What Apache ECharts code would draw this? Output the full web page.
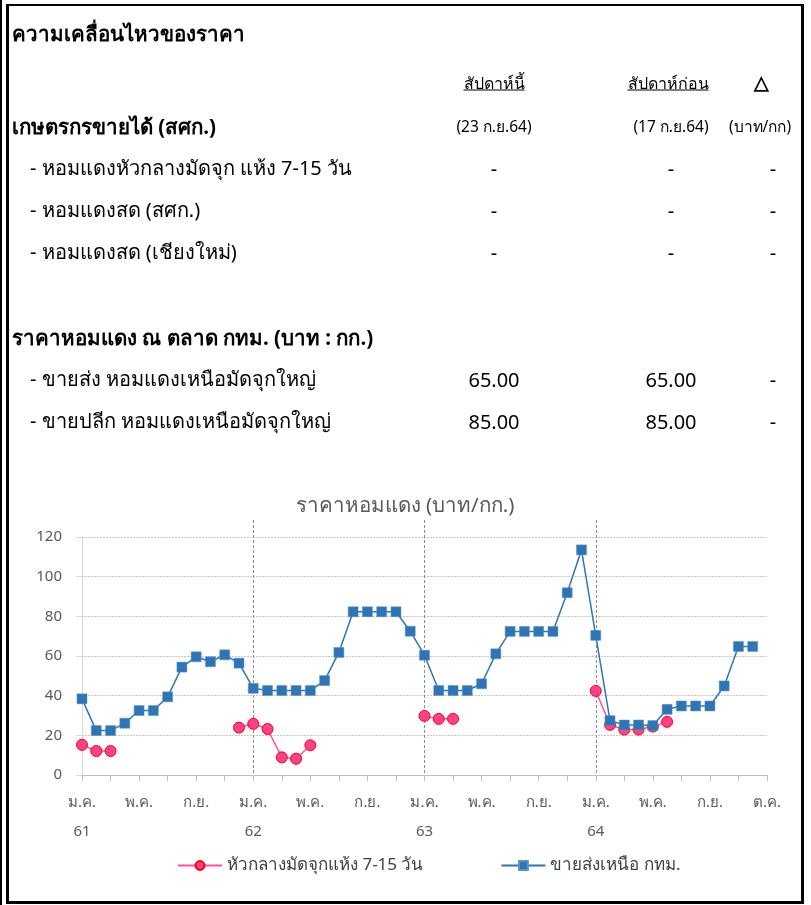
<!DOCTYPE html>
<html>
<head>
<meta charset="utf-8">
<script src="https://cdn.jsdelivr.net/npm/echarts@6/dist/echarts.min.js"></script>
<style>
  html, body { margin: 0; padding: 0; background: #fff; }
  body { width: 811px; height: 905px; position: relative; overflow: hidden;
         font-family: "Noto Sans", sans-serif; color: #000; }
  #frame { position: absolute; left: 6px; top: 4px; width: 798px; height: 900px;
           border: 3px solid #000; border-top-width: 2px; box-sizing: border-box; z-index: 2; pointer-events: none; }
  #edge { position: absolute; left: 0; top: 0; width: 2px; height: 905px; background: #000; }
  #chart { position: absolute; left: 0; top: 0; width: 811px; height: 905px; }
  .t { position: absolute; white-space: nowrap; transform: translateY(-50%); z-index: 3; }
  .c { transform: translate(-50%, -50%); }
  .b { font-weight: bold; font-size: 20.5px; }
  .r { font-size: 20px; }
  .s { font-size: 15.5px; }
  .u { text-decoration: underline; font-size: 16px; }
</style>
</head>
<body>
<div id="edge"></div>
<div id="chart"></div>
<div id="frame"></div>

<div class="t b" style="left:12px;top:33px">ความเคลื่อนไหวของราคา</div>
<div class="t c u" style="left:494px;top:83px">สัปดาห์นี้</div>
<div class="t c u" style="left:668px;top:83px">สัปดาห์ก่อน</div>
<div class="t c" style="left:761px;top:82px;font-size:19px;font-weight:bold">△</div>

<div class="t b" style="left:12px;top:126px">เกษตรกรขายได้ (สศก.)</div>
<div class="t c s" style="left:494px;top:126px">(23 ก.ย.64)</div>
<div class="t c s" style="left:671px;top:126px">(17 ก.ย.64)</div>
<div class="t c s" style="left:760px;top:126px">(บาท/กก)</div>

<div class="t r" style="left:30px;top:168px">- หอมแดงหัวกลางมัดจุก แห้ง 7-15 วัน</div>
<div class="t c r" style="left:494px;top:168px">-</div>
<div class="t c r" style="left:671px;top:168px">-</div>
<div class="t c r" style="left:773px;top:168px">-</div>

<div class="t r" style="left:30px;top:210px">- หอมแดงสด (สศก.)</div>
<div class="t c r" style="left:494px;top:210px">-</div>
<div class="t c r" style="left:671px;top:210px">-</div>
<div class="t c r" style="left:773px;top:210px">-</div>

<div class="t r" style="left:30px;top:252px">- หอมแดงสด (เชียงใหม่)</div>
<div class="t c r" style="left:494px;top:252px">-</div>
<div class="t c r" style="left:671px;top:252px">-</div>
<div class="t c r" style="left:773px;top:252px">-</div>

<div class="t b" style="left:12px;top:337px">ราคาหอมแดง ณ ตลาด กทม. (บาท : กก.)</div>

<div class="t r" style="left:30px;top:379px">- ขายส่ง หอมแดงเหนือมัดจุกใหญ่</div>
<div class="t c r" style="left:494px;top:379px">65.00</div>
<div class="t c r" style="left:671px;top:379px">65.00</div>
<div class="t c r" style="left:773px;top:379px">-</div>

<div class="t r" style="left:30px;top:421px">- ขายปลีก หอมแดงเหนือมัดจุกใหญ่</div>
<div class="t c r" style="left:494px;top:421px">85.00</div>
<div class="t c r" style="left:671px;top:421px">85.00</div>
<div class="t c r" style="left:773px;top:421px">-</div>

<script>
// หมวดเดือน (ปี พ.ศ. 61-64) + ช่องท้ายแกน
var categories = [
  'ม.ค. 61','ก.พ. 61','มี.ค. 61','เม.ย. 61','พ.ค. 61','มิ.ย. 61','ก.ค. 61','ส.ค. 61','ก.ย. 61','ต.ค. 61','พ.ย. 61','ธ.ค. 61',
  'ม.ค. 62','ก.พ. 62','มี.ค. 62','เม.ย. 62','พ.ค. 62','มิ.ย. 62','ก.ค. 62','ส.ค. 62','ก.ย. 62','ต.ค. 62','พ.ย. 62','ธ.ค. 62',
  'ม.ค. 63','ก.พ. 63','มี.ค. 63','เม.ย. 63','พ.ค. 63','มิ.ย. 63','ก.ค. 63','ส.ค. 63','ก.ย. 63','ต.ค. 63','พ.ย. 63','ธ.ค. 63',
  'ม.ค. 64','ก.พ. 64','มี.ค. 64','เม.ย. 64','พ.ค. 64','มิ.ย. 64','ก.ค. 64','ส.ค. 64','ก.ย. 64','ก.ย.(2) 64','ก.ย.(3) 64','ก.ย.(4) 64',
  'ต.ค.'
];

// หัวกลางมัดจุกแห้ง 7-15 วัน
var dryPrice = [
  15.2, 12.1, 12.1, null, null, null, null, null, null, null, null, 23.9,
  25.8, 23.2, 8.9, 8.2, 15, null, null, null, null, null, null, null,
  29.8, 28.3, 28.3, null, null, null, null, null, null, null, null, null,
  42.4, 25.3, 22.9, 22.9, 24.4, 26.8, null, null, null, null, null, null,
  null
];

// ขายส่งเหนือ กทม.
var wholesale = [
  38.4, 22.4, 22.4, 26.1, 32.5, 32.5, 39.4, 54.4, 59.6, 57.1, 60.6, 56.4,
  43.7, 42.6, 42.6, 42.6, 42.6, 47.6, 61.8, 82.3, 82.3, 82.3, 82.3, 72.5,
  60.4, 42.6, 42.6, 42.6, 46, 61.1, 72.4, 72.4, 72.4, 72.4, 91.9, 113.5,
  70.4, 27.4, 25.2, 25.2, 24.9, 33.1, 34.8, 34.8, 34.8, 44.9, 64.8, 64.8,
  null
];

var chart = echarts.init(document.getElementById('chart'), null, {renderer: 'canvas'});
var font = '"Noto Sans", sans-serif';

chart.setOption({
  animation: false,
  textStyle: {fontFamily: font},
  title: {
    text: 'ราคาหอมแดง (บาท/กก.)',
    left: 400,
    top: 491,
    textAlign: 'center',
    textStyle: {fontSize: 20.5, fontWeight: 'normal', color: '#595959', fontFamily: font}
  },
  legend: {
    left: 172,
    top: 852,
    itemWidth: 44,
    itemHeight: 11,
    itemGap: 77,
    textStyle: {fontSize: 17, color: '#404040', fontFamily: font},
    data: ['หัวกลางมัดจุกแห้ง 7-15 วัน', 'ขายส่งเหนือ กทม.']
  },
  grid: [
    {left: 82, right: 44, top: 537, bottom: 130},
    {left: 82, right: 44, top: 520, bottom: 130}
  ],
  xAxis: [
    {
      type: 'category',
      gridIndex: 0,
      data: categories,
      boundaryGap: false,
      axisLine: {lineStyle: {color: '#bfbfbf'}},
      axisTick: {interval: 1, length: 6, lineStyle: {color: '#bfbfbf'}},
      axisLabel: {
        interval: 3,
        margin: 13,
        color: '#595959',
        fontSize: 15,
        lineHeight: 29,
        formatter: function (v) {
          var p = v.split(' ');
          var m = p[0].replace(/\(\d\)/, '');
          return (m === 'ม.ค.' && p[1]) ? m + '\n' + p[1] : m;
        }
      },
      splitLine: {show: false}
    },
    {
      // เส้นประแบ่งปี
      type: 'category',
      gridIndex: 1,
      data: categories,
      boundaryGap: false,
      axisLine: {show: false},
      axisTick: {show: false},
      axisLabel: {show: false},
      splitLine: {
        show: true,
        interval: function (i) { return i > 0 && i < 48 && i % 12 === 0; },
        lineStyle: {color: '#8c8c8c', type: [3, 2], width: 1}
      }
    }
  ],
  yAxis: [
    {
      type: 'value',
      gridIndex: 0,
      min: 0,
      max: 120,
      interval: 20,
      axisLine: {show: true, lineStyle: {color: '#d9d9d9'}},
      axisTick: {show: true, length: 6, lineStyle: {color: '#d9d9d9'}},
      axisLabel: {margin: 20, color: '#595959', fontSize: 15},
      splitLine: {lineStyle: {color: '#c8c8c8', type: [2, 1]}}
    },
    {type: 'value', gridIndex: 1, min: 0, max: 1, show: false}
  ],
  series: [
    {
      name: 'หัวกลางมัดจุกแห้ง 7-15 วัน',
      type: 'line',
      data: dryPrice,
      connectNulls: false,
      showAllSymbol: true,
      symbol: 'circle',
      symbolSize: 11,
      lineStyle: {color: '#ff4fa3', width: 1.5},
      itemStyle: {color: '#ff3f8f', borderColor: '#ff0000', borderWidth: 1}
    },
    {
      name: 'ขายส่งเหนือ กทม.',
      type: 'line',
      data: wholesale,
      showAllSymbol: true,
      symbol: 'rect',
      symbolSize: 10,
      lineStyle: {color: '#2e75b6', width: 1.5},
      itemStyle: {color: '#2e75b6', borderColor: '#5a93c8', borderWidth: 0.5}
    }
  ]
});
</script>
</body>
</html>
